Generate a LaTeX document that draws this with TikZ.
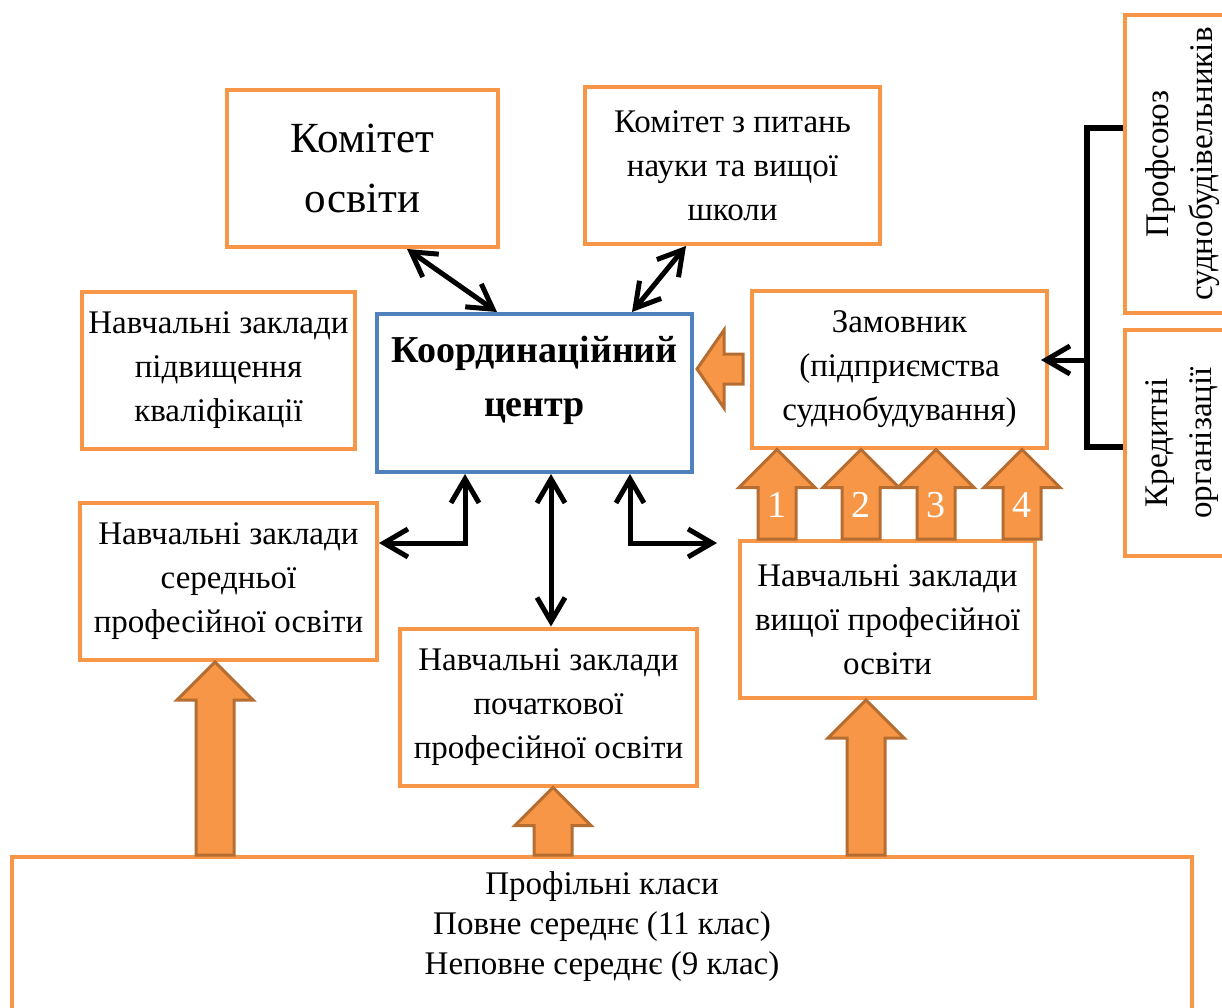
\documentclass[tikz,border=0pt]{standalone}
\usepackage{fontspec}
\setmainfont{Liberation Serif}
\usetikzlibrary{arrows.meta,calc}

\definecolor{boxorange}{HTML}{F79646}
\definecolor{arrowedge}{HTML}{B66D31}
\definecolor{centreblue}{HTML}{4F81BD}

% wide orange arrow pointing up: x, foot (node anchor), tip (node anchor)
\newcommand{\blockup}[3]{%
  \draw[blockarr] let \p1=(#2), \p2=(#3) in
    (#1-19pt,\y1) -- (#1-19pt,\y2-38pt) -- (#1-38pt,\y2-38pt) -- (#1,\y2)
    -- (#1+38pt,\y2-38pt) -- (#1+19pt,\y2-38pt) -- (#1+19pt,\y1) -- cycle;}

\begin{document}
\begin{tikzpicture}[x=1pt,y=-1pt,
    font=\fontsize{33}{44}\selectfont,
    box/.style={draw=boxorange,line width=4pt,align=center,inner sep=2pt,
      minimum width=295pt,minimum height=157pt},
    cbox/.style={draw=centreblue,line width=4pt,minimum width=315pt,minimum height=158pt},
    blockarr/.style={fill=boxorange,draw=arrowedge,line width=3pt,line join=miter},
    dblarr/.style={line width=5pt,<->},
    numtxt/.style={text=white,font=\fontsize{38}{40}\selectfont},
    >={Straight Barb[length=24pt,width=28pt]}]

    \useasboundingbox (0,0) rectangle (1222,1008);
    \clip (0,0) rectangle (1222,1008);

    % top row
    \node[box,minimum width=271pt,font=\fontsize{43}{60}\selectfont] (komosv) at (362.5,168.5) {Комітет\\освіти};
    \node[box] (komnauk) at (732.5,165.5) {Комітет з питань\\науки та вищої\\школи};

    % middle row
    \node[box,minimum width=273pt] (pidv) at (218.5,370) {Навчальні заклади\\підвищення\\кваліфікації};
    \node[cbox] (coord) at (534.5,393) {};
    \node[align=center,font=\fontsize{38}{54}\selectfont\bfseries] at ([yshift=13pt]coord.center) {Координаційний\\центр};
    \node[box] (zam) at (899.5,369) {Замовник\\(підприємства\\суднобудування)};

    % right column (rotated)
    \node[box,rotate=90,minimum width=298pt,minimum height=115pt] (prof) at (1182.5,164) {Профсоюз\\суднобудівельників};
    \node[box,rotate=90,minimum width=226pt,minimum height=115pt] (kred) at (1182.5,443) {Кредитні\\організації};

    % lower row
    \node[box,minimum width=297pt] (sered) at (228.5,581.5) {Навчальні заклади\\середньої\\професійної освіти};
    \node[box,minimum width=297pt] (poch) at (548.5,707) {Навчальні заклади\\початкової\\професійної освіти};
    \node[box] (vyshch) at (887.5,619.5) {Навчальні заклади\\вищої професійної\\освіти};

    % bottom
    \node[box,anchor=north,minimum width=1180pt,minimum height=170pt] (profil) at (602,855) {};
    \node[align=center,font=\fontsize{33}{40}\selectfont] at ([yshift=-72pt]profil.north) {Профільні класи\\Повне середнє (11 клас)\\Неповне середнє (9 клас)};

    % links of the centre
    \draw[dblarr] (407,0 |- komosv.south) -- (497,0 |- coord.north);
    \draw[dblarr] (686,0 |- komnauk.south) -- (632,0 |- coord.north);
    \draw[dblarr] (465,0 |- coord.south) |- (sered.east |- 0,543);
    \draw[dblarr] (551,0 |- coord.south) -- (551,0 |- poch.north);
    \draw[dblarr] (630,0 |- coord.south) |- (717,543);

    % bracket
    \draw[line width=6pt] (prof.north |- 0,128) -| (1087,447) -- (kred.north |- 0,447);
    \draw[line width=5pt,->] (1087,360) -- ([xshift=-8pt]zam.east |- 0,360);

    % wide arrows
    \draw[blockarr] let \p1=(zam.west), \p2=(coord.east) in
      (\x1-7pt,\y1+15pt) -- (\x2+30pt,\y1+15pt) -- (\x2+30pt,\y1+39pt) -- (\x2+3pt,\y1)
      -- (\x2+30pt,\y1-39pt) -- (\x2+30pt,\y1-15pt) -- (\x1-7pt,\y1-15pt) -- cycle;
    \foreach \xa/\lab in {777/1,861/2,936/3,1022/4}{
      \blockup{\xa pt}{vyshch.north}{zam.south}
      \node[numtxt] at (\xa,505) {\lab};
    }
    \blockup{215pt}{profil.north}{sered.south}
    \blockup{553pt}{profil.north}{poch.south}
    \blockup{866pt}{profil.north}{vyshch.south}

\end{tikzpicture}
\end{document}
